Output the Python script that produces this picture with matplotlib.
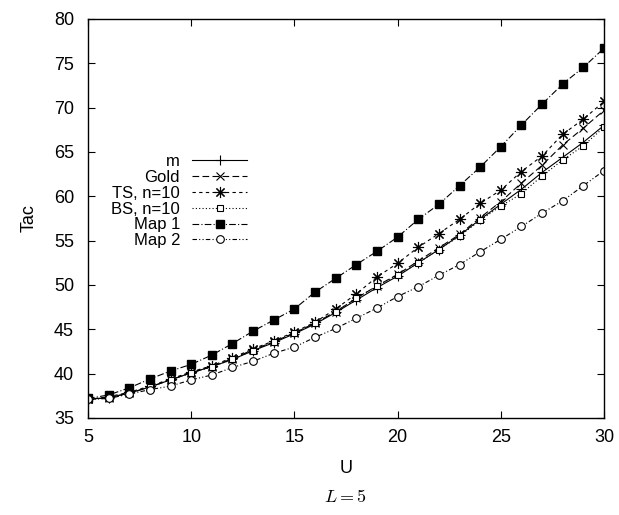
import matplotlib
matplotlib.use('Agg')
import matplotlib.pyplot as plt

plt.rcParams['font.family'] = ['Liberation Sans', 'DejaVu Sans']
plt.rcParams['mathtext.fontset'] = 'cm'

# U values (x axis)
u = list(range(5, 31))

# Tac values
m_vals = [37.1, 37.3, 37.8, 38.5, 39.3, 40.1, 40.8, 41.6, 42.6, 43.5, 44.5, 45.6, 46.9,
          48.3, 49.7, 51.0, 52.5, 54.0, 55.6, 57.4, 59.1, 60.8, 62.7, 64.4, 66.1, 68.0]
gold_vals = [37.1, 37.3, 37.8, 38.5, 39.3, 40.1, 40.8, 41.7, 42.7, 43.6, 44.6, 45.7, 47.0,
             48.5, 49.9, 51.2, 52.7, 54.2, 55.7, 57.6, 59.4, 61.5, 63.5, 65.8, 67.7, 69.7]
ts_vals = [37.1, 37.4, 37.9, 38.6, 39.4, 40.2, 40.9, 41.8, 42.8, 43.7, 44.7, 45.8, 47.3,
           49.0, 50.9, 52.45, 54.25, 55.8, 57.4, 59.2, 60.7, 62.8, 64.55, 67.0, 68.7, 70.7]
bs_vals = [37.1, 37.3, 37.8, 38.5, 39.3, 40.1, 40.8, 41.6, 42.6, 43.6, 44.6, 45.7, 47.0,
           48.5, 49.9, 51.1, 52.5, 54.0, 55.5, 57.3, 58.9, 60.3, 62.3, 64.1, 65.7, 67.8]
map1_vals = [37.2, 37.6, 38.4, 39.4, 40.3, 41.05, 42.1, 43.4, 44.8, 46.05, 47.3, 49.2, 50.75,
             52.3, 53.8, 55.4, 57.4, 59.1, 61.2, 63.3, 65.6, 68.05, 70.4, 72.67, 74.55, 76.7]
map2_vals = [37.1, 37.2, 37.7, 38.2, 38.6, 39.3, 39.85, 40.7, 41.4, 42.3, 43.0, 44.1, 45.1,
             46.25, 47.4, 48.7, 49.8, 51.1, 52.3, 53.75, 55.15, 56.6, 58.1, 59.5, 61.2, 62.9]

labels = ['m', 'Gold', 'TS, n=10', 'BS, n=10', 'Map 1', 'Map 2']

fig = plt.figure(figsize=(6.19, 5.15), dpi=100)
ax = fig.add_axes([88/619, 1-418/515, (604-88)/619, (418-19)/515])

lw = 0.8
ms = 5
ax.plot(u, m_vals, color='black', lw=lw, ls='-', marker='+', ms=7, mew=0.8, label=labels[0])
ax.plot(u, gold_vals, color='black', lw=lw, ls=(0, (6, 3)), marker='x', ms=6, mew=0.8,
        label=labels[1])
ax.plot(u, ts_vals, color='black', lw=lw, ls=(0, (3, 3)), marker=(8, 2, 0), ms=8, mew=0.8,
        label=labels[2])
ax.plot(u, bs_vals, color='black', lw=lw, ls=(0, (1, 2)), marker='s', ms=ms, mew=0.8,
        mfc='white', label=labels[3])
ax.plot(u, map1_vals, color='black', lw=lw, ls=(0, (6, 2, 1, 2)), marker='s', ms=ms + 0.5,
        mfc='black', label=labels[4])
ax.plot(u, map2_vals, color='black', lw=lw, ls=(0, (4, 2, 1, 2, 1, 2)), marker='o', ms=ms + 0.5,
        mew=0.8, mfc='white', label=labels[5])

ax.set_xlim(5, 30)
ax.set_ylim(35, 80)
ax.set_xticks(range(5, 31, 5))
ax.set_yticks(range(35, 81, 5))
ax.tick_params(direction='in', length=5, width=0.8, top=True, right=True, labelsize=13)
ax.tick_params(axis='y', pad=10)
ax.tick_params(axis='x', pad=8)
for s in ax.spines.values():
    s.set_linewidth(1.0)

ax.set_xlabel('U', fontsize=13, labelpad=10)
ax.set_ylabel('Tac', fontsize=13, labelpad=12)

leg = ax.legend(loc='upper right', bbox_to_anchor=(247/619, 1-154/515),
                bbox_transform=fig.transFigure, frameon=False, markerfirst=False,
                fontsize=12, handlelength=3.3, handletextpad=0.72, labelspacing=0.05,
                borderpad=0, borderaxespad=0)

fig.text(345/619, 1-497/515, r'$L = 5$', fontsize=13, ha='center', va='center')

fig.savefig('out.png', dpi=100)
